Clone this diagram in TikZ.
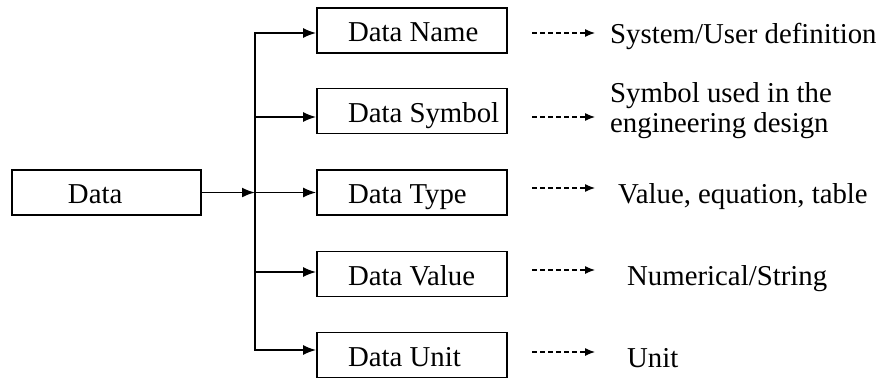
\documentclass[tikz,border=0pt]{standalone}
\usepackage{fontspec}
\setmainfont{Liberation Serif}
\usetikzlibrary{arrows.meta}
\begin{document}
\begin{tikzpicture}[x=1pt,y=-1pt,
  font=\fontsize{28.8}{30}\selectfont,
  box/.style={draw, line width=1.7pt, minimum height=45pt, inner xsep=0pt, inner ysep=0pt, text height=22pt, text depth=0pt},
  solidarrow/.style={line width=1.8pt, -{Latex[length=13pt,width=10pt]}},
  trunk/.style={line width=1.8pt, line cap=rect},
  dasharrow/.style={line width=1.2pt, dash pattern=on 5pt off 3pt, -{Latex[length=10pt,width=8pt]}},
  desc/.style={anchor=base west, inner sep=0pt, align=left}]
\useasboundingbox (0,0) rectangle (884,378);
% boxes
\node[box] (data) at (106.5,192.5) {\makebox[189pt][l]{\hspace{56pt}Data}};
\node[box] (name) at (412,30.5) {\makebox[190pt][l]{\hspace{31pt}Data Name}};
\node[box] (sym) at (412,111) {\makebox[190pt][l]{\hspace{31pt}Data Symbol}};
\node[box] (type) at (412,192.5) {\makebox[190pt][l]{\hspace{31pt}Data Type}};
\node[box] (val) at (412,274) {\makebox[190pt][l]{\hspace{31pt}Data Value}};
\node[box] (unit) at (412,355) {\makebox[190pt][l]{\hspace{31pt}Data Unit}};
% trunk junctions
\coordinate (j1) at (255,33);
\coordinate (j2) at (255,117);
\coordinate (j3) at (255,192.5);
\coordinate (j4) at (255,272);
\coordinate (j5) at (255,350);
\draw[trunk] (j1) -- (j5);
\draw[solidarrow] (data.east) -- (j3);
\draw[solidarrow] (j1) -- (name.west |- j1);
\draw[solidarrow] (j2) -- (sym.west |- j2);
\draw[solidarrow] (j3) -- (type.west |- j3);
\draw[solidarrow] (j4) -- (val.west |- j4);
\draw[solidarrow] (j5) -- (unit.west |- j5);
% descriptions
\node[desc] (t1) at (610,43) {System/User definition};
\node[desc, anchor=north west] (t2) at (610,82) {Symbol used in the\\engineering design};
\node[desc] (t3) at (618,203) {Value, equation, table};
\node[desc] (t4) at (627,285) {Numerical/String};
\node[desc] (t5) at (627,367) {Unit};
% dashed arrows
\coordinate (a1) at (532,33);  \coordinate (b1) at (595,33);
\coordinate (a2) at (532,117); \coordinate (b2) at (595,117);
\coordinate (a3) at (532,188); \coordinate (b3) at (595,188);
\coordinate (a4) at (532,270); \coordinate (b4) at (595,270);
\coordinate (a5) at (532,352); \coordinate (b5) at (595,352);
\draw[dasharrow] (a1) -- (b1);
\draw[dasharrow] (a2) -- (b2);
\draw[dasharrow] (a3) -- (b3);
\draw[dasharrow] (a4) -- (b4);
\draw[dasharrow] (a5) -- (b5);
\end{tikzpicture}
\end{document}
